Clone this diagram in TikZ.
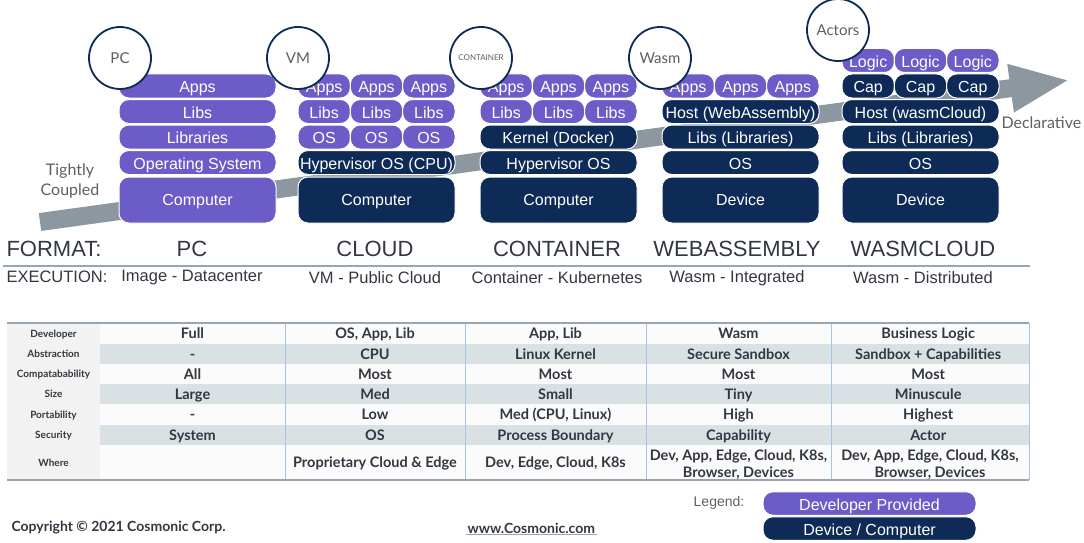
\documentclass[tikz,border=0pt]{standalone}
\usepackage{fontspec}
\setmainfont{Liberation Sans}
\newfontfamily\lato{Lato}
\usepackage{tikz}
\usetikzlibrary{positioning,arrows.meta}

\definecolor{devpurple}{RGB}{108,92,199}
\definecolor{hostnavy}{RGB}{14,43,88}
\definecolor{arrowgrey}{RGB}{140,151,160}
\definecolor{softgrey}{RGB}{95,95,95}
\definecolor{inkgrey}{RGB}{50,55,64}
\definecolor{bandgrey}{RGB}{217,225,229}
\definecolor{labelgrey}{RGB}{242,242,242}
\definecolor{gridblue}{RGB}{168,196,222}
\definecolor{rulegrey}{RGB}{152,166,180}

\begin{document}
\begin{tikzpicture}
    [ x = 1pt, y = -1pt
    , layer/.style =
      { draw = white, line width = 1pt, rounded corners = 10pt, text = white
      , minimum width = 157pt, minimum height = 24pt, inner sep = 0pt
      , text height = 13.5pt, text depth = 0pt
      , font = \fontsize{16}{18}\selectfont }
    , sublayer/.style =
      { layer, minimum width = 52.33pt }
    , base/.style =
      { layer, minimum height = 46pt, text height = 11.5pt }
    , dev/.style =
      { fill = devpurple }
    , sys/.style =
      { fill = hostnavy }
    , ring/.style =
      { circle, draw = hostnavy, line width = 1.8pt, fill = white
      , minimum size = 62pt, inner sep = 0pt, text = softgrey
      , font = \lato\fontsize{15}{17}\selectfont }
    , note/.style =
      { text = softgrey, align = center, font = \lato\fontsize{16}{20}\selectfont }
    , format/.style =
      { text = inkgrey, font = \fontsize{22}{24}\selectfont }
    , execution/.style =
      { text = inkgrey, font = \fontsize{16.5}{18}\selectfont }
    , rowname/.style =
      { text = inkgrey, text height = 7.4pt, text depth = 0pt
      , font = \lato\bfseries\fontsize{10}{12}\selectfont }
    , cellbase/.style =
      { text = inkgrey, align = center, font = \lato\bfseries\fontsize{14.5}{16.5}\selectfont }
    , cell/.style =
      { cellbase, text height = 10.6pt, text depth = 0pt }
    , footer/.style =
      { text = inkgrey, anchor = west, font = \lato\bfseries\fontsize{14}{16}\selectfont }
    ]
    \useasboundingbox (0,0) rectangle (1084,543);

    % trend arrow behind the stacks
    \coordinate (tail) at (40,222);
    \coordinate (tip) at (1070,80);
    \draw [arrowgrey, line width = 18pt, -{Triangle[width=44pt,length=60pt]}] (tail) -- (tip);
    \node [note] (tight) at (70,181) {Tightly\\Coupled};
    \node [note, anchor = west] (decl) at (998,123) {Declarative};

    % PC
    \node [layer,dev] (pcapps) at (197.5,86) {Apps};
    \node [layer,dev] (pclibs) [below=.5pt of pcapps] {Libs};
    \node [layer,dev] (pclibraries) [below=.5pt of pclibs] {Libraries};
    \node [layer,dev] (pcos) [below=.5pt of pclibraries] {Operating System};
    \node [base,dev] (pccomputer) [below=1.5pt of pcos] {Computer};

    % VM
    \foreach \t/\y in {Apps/86, Libs/111.5, OS/137}
      \foreach \i in {0,1,2}
        \node [sublayer,dev] (vm\t\i) at (324.17+52.33*\i,\y) {\t};
    \node [layer,sys] (vmhyper) at (376.5,162.5) {Hypervisor OS (CPU)};
    \node [base,sys] (vmcomputer) [below=1.5pt of vmhyper] {Computer};

    % container
    \foreach \t/\y in {Apps/86, Libs/111.5}
      \foreach \i in {0,1,2}
        \node [sublayer,dev] (ct\t\i) at (506.17+52.33*\i,\y) {\t};
    \node [layer,sys] (ctkernel) at (558.5,137) {Kernel (Docker)};
    \node [layer,sys] (cthyper) [below=.5pt of ctkernel] {Hypervisor OS};
    \node [base,sys] (ctcomputer) [below=1.5pt of cthyper] {Computer};

    % wasm
    \foreach \i in {0,1,2}
      \node [sublayer,dev] (waApps\i) at (688.17+52.33*\i,86) {Apps};
    \node [layer,sys] (wahost) at (740.5,111.5) {Host (WebAssembly)};
    \node [layer,sys] (walibs) [below=.5pt of wahost] {Libs (Libraries)};
    \node [layer,sys] (waos) [below=.5pt of walibs] {OS};
    \node [base,sys] (wadevice) [below=1.5pt of waos] {Device};

    % wasmcloud
    \foreach \i in {0,1,2} {
      \node [sublayer,dev] (wcLogic\i) at (868.17+52.33*\i,60.5) {Logic};
      \node [sublayer,sys] (wcCap\i) at (868.17+52.33*\i,86) {Cap};
    }
    \node [layer,sys] (wchost) at (920.5,111.5) {Host (wasmCloud)};
    \node [layer,sys] (wclibs) [below=.5pt of wchost] {Libs (Libraries)};
    \node [layer,sys] (wcos) [below=.5pt of wclibs] {OS};
    \node [base,sys] (wcdevice) [below=1.5pt of wcos] {Device};

    % rings on top
    \node [ring] (pcring) at (120,58) {PC};
    \node [ring] (vmring) at (298,58) {VM};
    \node [ring, font = \lato\fontsize{8}{9}\selectfont] (ctring) at (481,58) {CONTAINER};
    \node [ring] (waring) at (660,58) {Wasm};
    \node [ring] (wcring) at (838,30) {Actors};

    % format / execution
    \node [format, anchor = west] (fmt) at (3,249) {FORMAT:};
    \node [execution, anchor = west] (exe) at (3,277) {EXECUTION:};
    \foreach \x/\f/\e in {192/PC/Image - Datacenter, 375/CLOUD/VM - Public Cloud,
        557/CONTAINER/Container - Kubernetes, 737/WEBASSEMBLY/Wasm - Integrated,
        923/WASMCLOUD/Wasm - Distributed} {
      \node [format] (fmt\x) at (\x,249) {\f};
      \node [execution] (exe\x) at (\x,278) {\e};
    }
    \coordinate (ruleA) at (3,266);
    \coordinate (ruleB) at (1030,266);
    \draw [rulegrey, line width = 1.4pt] (ruleA) -- (ruleB);

    % table
    \fill [labelgrey] (7,323) rectangle (100,480);
    \fill [white!97!gray] (100,323) rectangle (1029,480);
    \foreach \a/\b in {344/364, 384/404, 425/445}
      \fill [bandgrey] (100,\a) rectangle (1029,\b);
    \foreach \x in {285,465,646,831,1029}
      \draw [gridblue, line width = .8pt] (\x,323) -- (\x,480);
    \draw [rulegrey, line width = 1.2pt] (7,323) -- (1029,323);
    \draw [rulegrey, line width = 1.2pt] (7,480) -- (1029,480);
    \foreach \r/\y/\a/\b/\c/\d/\e in
      { Developer/333.5/Full/{OS, App, Lib}/{App, Lib}/Wasm/Business Logic
      , Abstraction/354/-/CPU/Linux Kernel/Secure Sandbox/Sandbox + Capabilities
      , Compatabability/374/All/Most/Most/Most/Most
      , Size/394/Large/Med/Small/Tiny/Minuscule
      , Portability/414.5/-/Low/{Med (CPU, Linux)}/High/Highest
      , Security/435/System/OS/Process Boundary/Capability/Actor } {
      \node [rowname] (row\r) at (53.5,\y) {\r};
      \node [cell] (\r-a) at (192.5,\y) {\a};
      \node [cell] (\r-b) at (375,\y) {\b};
      \node [cell] (\r-c) at (555.5,\y) {\c};
      \node [cell] (\r-d) at (738.5,\y) {\d};
      \node [cell] (\r-e) at (930,\y) {\e};
    }
    \node [rowname] (rowWhere) at (53.5,462.5) {Where};
    \node [cell] (Where-b) at (375,462.5) {Proprietary Cloud \& Edge};
    \node [cell] (Where-c) at (555.5,462.5) {Dev, Edge, Cloud, K8s};
    \node [cellbase] (Where-d) at (738.5,464.5) {Dev, App, Edge, Cloud, K8s,\\Browser, Devices};
    \node [cellbase] (Where-e) at (930,464.5) {Dev, App, Edge, Cloud, K8s,\\Browser, Devices};

    % legend and footer
    \node [text = softgrey, font = \fontsize{14}{16}\selectfont] (legend) at (719,503) {Legend:};
    \node [layer, dev, minimum width = 213pt, minimum height = 23.5pt] (legdev) at (869.5,503.5) {Developer Provided};
    \node [layer, sys, minimum width = 213pt, minimum height = 23.5pt] (legsys) [below=.5pt of legdev] {Device / Computer};
    \node [footer] (copy) at (8,528) {Copyright © 2021 Cosmonic Corp.};
    \node [footer] (url) at (464,528) {www.Cosmonic.com};
    \draw [rulegrey, line width = .8pt] ([xshift=2pt,yshift=2.5pt]url.south west) -- ([xshift=-2pt,yshift=2.5pt]url.south east);
\end{tikzpicture}
\end{document}
